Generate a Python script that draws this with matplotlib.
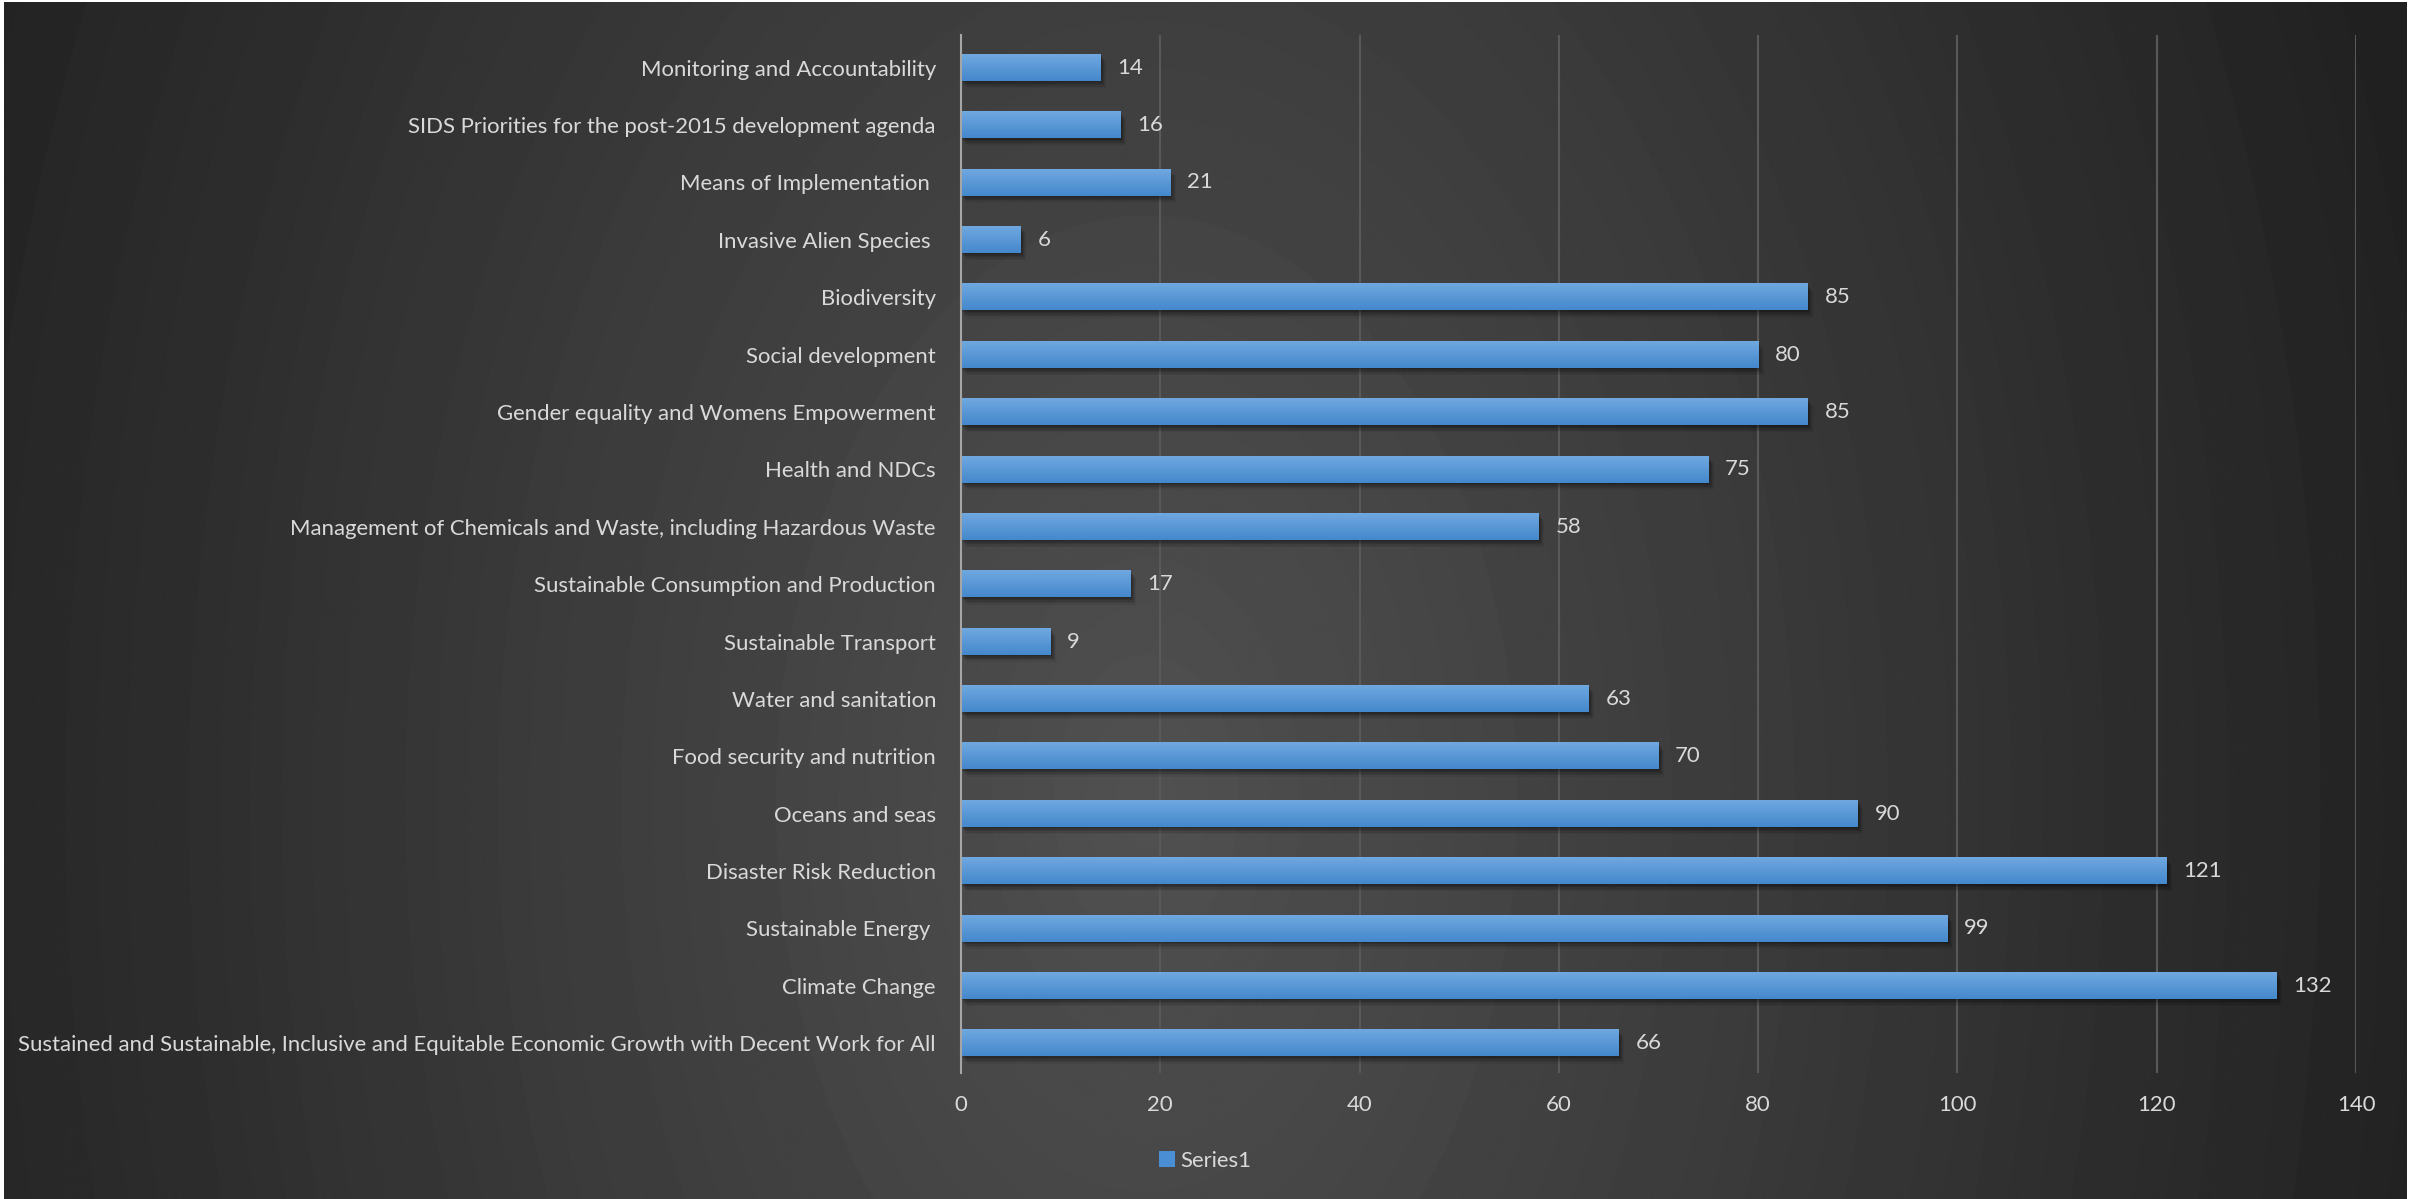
import numpy as np
import matplotlib
matplotlib.use("Agg")
import matplotlib.pyplot as plt
import matplotlib.patheffects as pe
from matplotlib.patches import Patch

categories = [
    "Sustained and Sustainable, Inclusive and Equitable Economic Growth with Decent Work for All",
    "Climate Change",
    "Sustainable Energy ",
    "Disaster Risk Reduction",
    "Oceans and seas",
    "Food security and nutrition",
    "Water and sanitation",
    "Sustainable Transport",
    "Sustainable Consumption and Production",
    "Management of Chemicals and Waste, including Hazardous Waste",
    "Health and NDCs",
    "Gender equality and Womens Empowerment",
    "Social development",
    "Biodiversity",
    "Invasive Alien Species ",
    "Means of Implementation ",
    "SIDS Priorities for the post-2015 development agenda",
    "Monitoring and Accountability",
]
values = [66, 132, 99, 121, 90, 70, 63, 9, 17, 58, 75, 85, 80, 85, 6, 21, 16, 14]
x_ticks = [0, 20, 40, 60, 80, 100, 120, 140]
series_name = "Series1"

plt.rcParams['font.family'] = ['Lato', 'DejaVu Sans']
text_col = '#d9d9d9'
fs = 15.9

W, H = 2420, 1199
fig = plt.figure(figsize=(W / 100, H / 100), dpi=100, facecolor='white')

# dark radial background
bg = fig.add_axes([4 / W, 0, (2407 - 4) / W, 1 - 2 / H], zorder=-5)
yy, xx = np.mgrid[0:H, 0:W]
r = np.sqrt(((xx - 1150) / 1400.0) ** 2 + ((yy - 800) / 2200.0) ** 2)
r = np.clip(r, 0, 1)
r = np.floor(r * 45) / 45
shade = (0x50 - r * (0x50 - 0x1e)) / 255.0
bg.imshow(shade, cmap='gray', vmin=0, vmax=1, aspect='auto', interpolation='bilinear')
bg.axis('off')

ax = fig.add_axes([961 / W, 1 - 1073 / H, (2356 - 961) / W, (1073 - 35) / H])
ax.set_facecolor('none')

ypos = np.arange(len(categories))
bar_h = 0.46
soft_shadow = [pe.SimplePatchShadow(offset=(o, -o * 1.3), shadow_rgbFace='black', alpha=a)
               for o, a in [(4.0, 0.06), (3.2, 0.08), (2.4, 0.1), (1.6, 0.12), (0.8, 0.14)]]
bars = ax.barh(ypos, values, height=bar_h, color='#5597d8', zorder=3,
               path_effects=soft_shadow + [pe.Normal()])

# vertical gradient on each bar
grad = np.linspace(0, 1, 50)[:, None]
top = np.array([0x70, 0xa8, 0xe0]) / 255.0
bot = np.array([0x44, 0x88, 0xcc]) / 255.0
grad_img = top[None, None, :] * (1 - grad[:, :, None]) + bot[None, None, :] * grad[:, :, None]
for b, v, y in zip(bars, values, ypos):
    ax.imshow(grad_img, extent=[0, v, y - bar_h / 2, y + bar_h / 2], aspect='auto',
              zorder=4, interpolation='bilinear')
    ax.annotate(str(v), (v, y), xytext=(12, 0), textcoords='offset points',
                va='center', ha='left', color=text_col, fontsize=fs, zorder=5)

ax.set_xlim(0, 140)
ax.set_ylim(-0.52, 17.57)
ax.set_xticks(x_ticks)
ax.set_yticks(ypos)
ax.set_yticklabels(categories)
ax.tick_params(axis='both', length=0, colors=text_col, labelsize=fs)
ax.tick_params(axis='y', pad=18)
ax.tick_params(axis='x', pad=16)
ax.grid(axis='x', color='#595959', linewidth=1.5, zorder=0)
ax.set_axisbelow(True)
for s in ['top', 'right', 'bottom']:
    ax.spines[s].set_visible(False)
ax.spines['left'].set_color('#a6a6a6')
ax.spines['left'].set_linewidth(1.5)
ax.spines['left'].set_zorder(6)

handle = Patch(facecolor='#4a8fd6', edgecolor='none')
fig.legend([handle], [series_name], loc='center', bbox_to_anchor=(0.498, 0.032),
           frameon=False, handlelength=0.7, handleheight=0.7, handletextpad=0.25,
           fontsize=fs, labelcolor=text_col)

fig.savefig('out.png', dpi=100, facecolor='white')
